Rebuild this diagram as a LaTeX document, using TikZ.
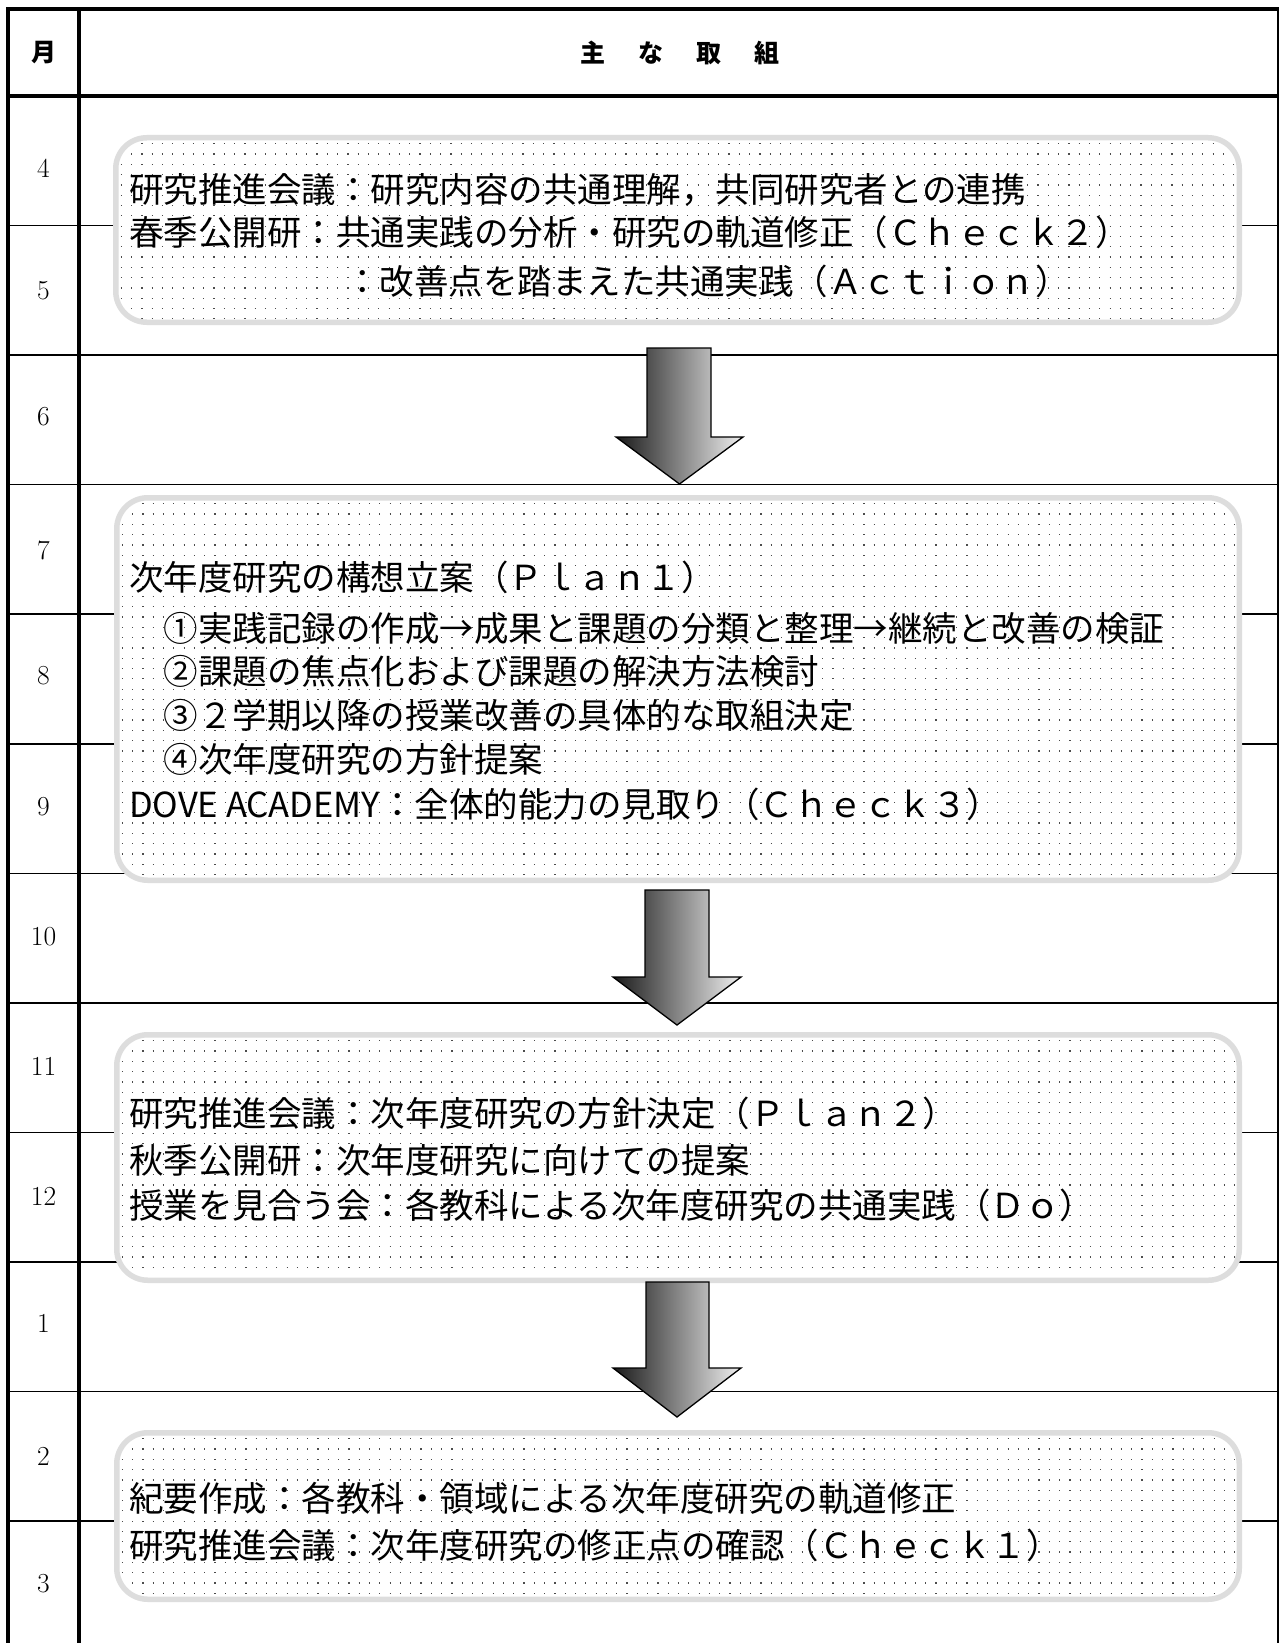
\documentclass[tikz,border=0pt]{standalone}
\usepackage{fontspec}
\newfontfamily\jp{Noto Sans CJK JP}
\definecolor{boxgray}{HTML}{DDDDDD}
\tikzset{
  frameline/.style={line width=4pt, line cap=rect},
  rowline/.style={line width=1.8pt},
  rightline/.style={line width=1.4pt},
  roundbox/.style={draw=boxgray, line width=5.5pt, fill=white, rounded corners=31pt},
  dotrow/.style={draw=black!70, line width=1.2pt, dash pattern=on 1.2pt off 9.1pt},
  boxtext/.style={anchor=base west, inner sep=0pt, font=\jp\fontsize{34.5}{40}\selectfont},
  month/.style={font=\fontsize{27.5}{30}\selectfont, inner sep=0pt},
  headtext/.style={font=\jp\bfseries\fontsize{25}{28}\selectfont, inner sep=0pt},
  blockarrow/.style={draw=black, line width=1.3pt, line join=miter, left color=black!90, right color=black!6},
}
\newcommand\dottedbox[4]{%
  \draw[roundbox] (#1,#2) rectangle (#3,#4);
  \begin{scope}
    \clip[rounded corners=28pt] (#1+3,#2+3) rectangle (#3-3,#4-3);
    \pgfmathsetmacro\ystart{#2+6}
    \pgfmathsetmacro\ynext{#2+16.3}
    \pgfmathsetmacro\yend{#4-3}
    \foreach \yy in {\ystart,\ynext,...,\yend}
      \draw[dotrow] (#1+5,\yy) -- (#3,\yy);
  \end{scope}}
\begin{document}
\begin{tikzpicture}[x=1pt,y=-1pt]
\useasboundingbox (0,0) rectangle (1279,1643);
\fill[white] (0,0) rectangle (1279,1643);

% row lines
\foreach \yy in {225.5,355,484.5,614,744,873.5,1003,1132.5,1262,1391.5,1521}
  \draw[rowline] (8,\yy) -- (1278,\yy);

% boxes with dotted grid
\dottedbox{115.75}{137.75}{1239.25}{322.25}
\dottedbox{116.75}{497.75}{1239.25}{880.25}
\dottedbox{116.75}{1034.75}{1239.25}{1280.25}
\dottedbox{116.75}{1432.75}{1239.25}{1599.25}

% block arrows
\draw[blockarrow] (647,348) -- (711,348) -- (711,437) -- (743,437) -- (679.5,484) -- (616,437) -- (647,437) -- cycle;
\draw[blockarrow] (645,890) -- (709,890) -- (709,977) -- (741,977) -- (677,1025) -- (613,977) -- (645,977) -- cycle;
\draw[blockarrow] (646,1282) -- (709,1282) -- (709,1368) -- (741,1368) -- (677,1417) -- (613,1368) -- (646,1368) -- cycle;

% frame
\draw[frameline] (8,9.5) -- (1279,9.5);
\draw[frameline] (8,96) -- (1278,96);
\draw[frameline] (8,9.5) -- (8,1645);
\draw[frameline] (79.3,9.5) -- (79.3,1645);
\draw[rightline] (1277.8,9.5) -- (1277.8,1643);

% header
\node[headtext] (hmonth) at (43.5,53) {月};
\node[headtext] (hmain) at (680,53) {主\hspace{33pt}な\hspace{33pt}取\hspace{33pt}組};

% months
\node[month] (m4) at (43.5,168) {4};
\node[month] (m5) at (43.5,291) {5};
\node[month] (m6) at (43.5,417) {6};
\node[month] (m7) at (43.5,550) {7};
\node[month] (m8) at (43.5,676) {8};
\node[month] (m9) at (43.5,807) {9};
\node[month] (m10) at (43.5,937) {10};
\node[month] (m11) at (43.5,1066) {11};
\node[month] (m12) at (43.5,1196) {12};
\node[month] (m1) at (43.5,1323) {1};
\node[month] (m2) at (43.5,1456) {2};
\node[month] (m3) at (43.5,1584) {3};

% box 1
\node[boxtext] (a1) at (129,202) {研究推進会議：研究内容の共通理解，共同研究者との連携};
\node[boxtext] (a2) at (129,245) {春季公開研：共通実践の分析・研究の軌道修正（Ｃｈｅｃｋ２）};
\node[boxtext] (a3) at (345,294) {：改善点を踏まえた共通実践（Ａｃｔｉｏｎ）};

% box 2
\node[boxtext] (b1) at (129,590) {次年度研究の構想立案（Ｐｌａｎ１）};
\node[boxtext] (b2) at (129,641) {　①実践記録の作成→成果と課題の分類と整理→継続と改善の検証};
\node[boxtext] (b3) at (129,684.5) {　②課題の焦点化および課題の解決方法検討};
\node[boxtext] (b4) at (129,728.5) {　③２学期以降の授業改善の具体的な取組決定};
\node[boxtext] (b5) at (129,772.5) {　④次年度研究の方針提案};
\node[boxtext] (b6) at (129,817) {DOVE ACADEMY：全体的能力の見取り（Ｃｈｅｃｋ３）};

% box 3
\node[boxtext] (c1) at (129,1126.5) {研究推進会議：次年度研究の方針決定（Ｐｌａｎ２）};
\node[boxtext] (c2) at (129,1173.7) {秋季公開研：次年度研究に向けての提案};
\node[boxtext] (c3) at (129,1218.7) {授業を見合う会：各教科による次年度研究の共通実践（Ｄｏ）};

% box 4
\node[boxtext] (d1) at (129,1511) {紀要作成：各教科・領域による次年度研究の軌道修正};
\node[boxtext] (d2) at (129,1558) {研究推進会議：次年度研究の修正点の確認（Ｃｈｅｃｋ１）};
\end{tikzpicture}
\end{document}
